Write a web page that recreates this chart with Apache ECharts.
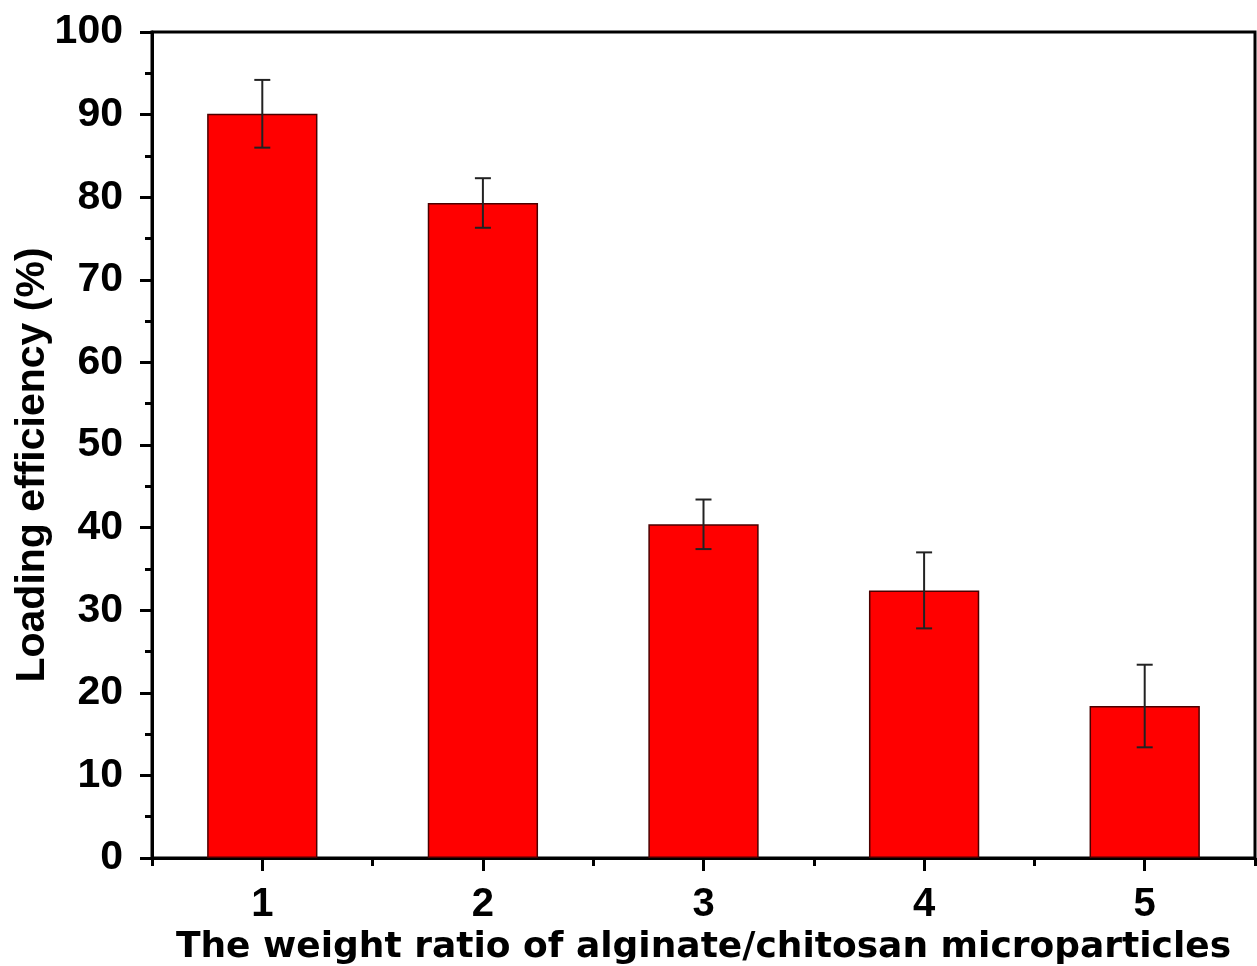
<!DOCTYPE html>
<html>
<head>
<meta charset="utf-8">
<script src="https://cdn.jsdelivr.net/npm/echarts@6/dist/echarts.min.js"></script>
<style>
html,body{margin:0;padding:0;background:#fff;}
#chart{width:1257px;height:966px;}
</style>
</head>
<body>
<div id="chart"></div>
<script>
const categories = ['1', '2', '3', '4', '5'];
const loadingEfficiency = [90.1, 79.3, 40.4, 32.4, 18.4];
const errorValues = [4.1, 3.0, 3.0, 4.6, 5.0];
const yTicks = [0, 10, 20, 30, 40, 50, 60, 70, 80, 90, 100];

const chart = echarts.init(document.getElementById('chart'));
const font = '"Liberation Sans", Arial, sans-serif';
const wideFont = '"DejaVu Sans", "Liberation Sans", sans-serif';

const errData = loadingEfficiency.map((v, i) => [i, v - errorValues[i], v + errorValues[i]]);

chart.setOption({
  animation: false,
  backgroundColor: '#fff',
  grid: { left: 152, right: 2, top: 32, bottom: 108, containLabel: false, outerBoundsMode: 'none',
    show: true, borderColor: '#000', borderWidth: 3, backgroundColor: 'transparent' },
  xAxis: [
    {
      type: 'category', data: categories, position: 'bottom',
      axisLine: { show: true, onZero: false, lineStyle: { color: '#000', width: 3 } },
      axisTick: { show: true, alignWithLabel: true, length: 13, lineStyle: { color: '#000', width: 3 } },
      axisLabel: { color: '#000', fontSize: 40, fontWeight: 'bold', fontFamily: font, margin: 27 },
      name: 'The weight ratio of alginate/chitosan microparticles',
      nameLocation: 'middle', nameGap: 52,
      nameTextStyle: { color: '#000', fontSize: 36, fontWeight: 'bold', fontFamily: wideFont },
      splitLine: { show: false }
    },
    {
      type: 'category', data: categories, position: 'bottom',
      axisLine: { show: false },
      axisTick: { show: true, length: 8, lineStyle: { color: '#000', width: 3 } },
      axisLabel: { show: false },
      splitLine: { show: false }
    }
  ],
  yAxis: [
    {
      type: 'value', min: 0, max: 100, interval: 10,
      axisLine: { show: true, lineStyle: { color: '#000', width: 3 } },
      axisTick: { show: true, length: 12, lineStyle: { color: '#000', width: 3 } },
      minorTick: { show: true, splitNumber: 2, length: 7, lineStyle: { color: '#000', width: 3 } },
      axisLabel: { color: '#000', fontSize: 41, fontWeight: 'bold', fontFamily: font, margin: 29,
        formatter: v => yTicks.includes(v) ? String(v) : '' },
      splitLine: { show: false },
      name: 'Loading efficiency (%)',
      nameLocation: 'middle', nameGap: 99, nameRotate: 90, nameMoveOverlap: false,
      nameTextStyle: { color: '#000', fontSize: 41, fontWeight: 'bold', fontFamily: font, padding: [0, 40, 0, 0] }
    }
  ],
  series: [
    {
      type: 'bar', data: loadingEfficiency, barWidth: '50%', xAxisIndex: 0, yAxisIndex: 0,
      itemStyle: { color: '#ff0000', borderColor: '#4a0000', borderWidth: 1.5 }
    },
    {
      type: 'custom', xAxisIndex: 0, yAxisIndex: 0, data: errData, z: 10,
      renderItem: function (params, api) {
        const x = api.value(0);
        const lo = api.coord([x, api.value(1)]);
        const hi = api.coord([x, api.value(2)]);
        const cap = 8;
        const style = { stroke: '#222', lineWidth: 2 };
        return {
          type: 'group',
          children: [
            { type: 'line', shape: { x1: hi[0], y1: hi[1], x2: lo[0], y2: lo[1] }, style },
            { type: 'line', shape: { x1: hi[0] - cap, y1: hi[1], x2: hi[0] + cap, y2: hi[1] }, style },
            { type: 'line', shape: { x1: lo[0] - cap, y1: lo[1], x2: lo[0] + cap, y2: lo[1] }, style }
          ]
        };
      }
    }
  ]
});
</script>
</body>
</html>
